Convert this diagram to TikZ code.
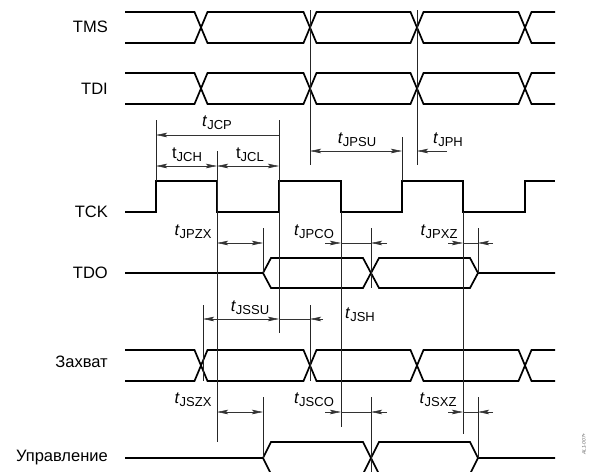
\documentclass[tikz,border=0pt]{standalone}
\usepackage{fontspec}
\setmainfont{Liberation Sans}
\usetikzlibrary{arrows.meta}

\tikzset{
  wave/.style={line width=1.7pt, line join=miter},
  guide/.style={line width=0.6pt, black!85},
  dim/.style={line width=0.6pt, black!80},
  signame/.style={anchor=east, inner sep=0pt, font=\fontsize{16.5}{18}\selectfont},
  tlabel/.style={inner sep=0pt},
}
% timing label: italic t with a lowered subscript
\newcommand{\tsub}[1]{{\fontsize{16.5}{18}\selectfont\textit{t}}\raisebox{-3pt}{\fontsize{13}{14}\selectfont #1}}
\newcommand{\tsubup}[1]{{\fontsize{16.5}{18}\selectfont t}\raisebox{-3pt}{\fontsize{13}{14}\selectfont #1}}
% bus signal between top and bottom level
\newcommand{\busline}[2]{%
  \draw[wave] (125,#1) -- (194.5,#1) -- (207.5,#2) -- (303.5,#2) -- (316.5,#1) -- (410.5,#1) -- (423.5,#2) -- (518.5,#2) -- (531.5,#1) -- (555,#1);
  \draw[wave] (125,#2) -- (194.5,#2) -- (207.5,#1) -- (303.5,#1) -- (316.5,#2) -- (410.5,#2) -- (423.5,#1) -- (518.5,#1) -- (531.5,#2) -- (555,#2);}
% output signal: high-Z, driven, high-Z
\newcommand{\outline}[3]{%
  \draw[wave] (125,#2) -- (263,#2) -- (271,#1) -- (363,#1) -- (379,#3) -- (470,#3) -- (478,#2) -- (555,#2);
  \draw[wave] (263,#2) -- (271,#3) -- (363,#3) -- (379,#1) -- (470,#1) -- (478,#2);}

\begin{document}
\begin{tikzpicture}[x=1pt, y=-1pt, >={Stealth[length=11pt, width=4.5pt, inset=2pt]}]
  \useasboundingbox (0,0) rectangle (590,472);
  \clip (0,0) rectangle (590,472);

  % signal names
  \node[signame] (tms) at (108,27) {TMS};
  \node[signame] (tdi) at (108,89) {TDI};
  \node[signame] (tck) at (108,212) {TCK};
  \node[signame] (tdo) at (108,273) {TDO};
  \node[signame] (cap) at (108,362) {Захват};
  \node[signame] (ctl) at (108,458) {Управление};

  % waveforms
  \busline{12}{43}
  \busline{73}{104}
  \draw[wave] (125,212) -- (156,212) -- (156,181) -- (217,181) -- (217,212) -- (279,212) -- (279,181) -- (341,181)
    -- (341,212) -- (402,212) -- (402,181) -- (463,181) -- (463,212) -- (525,212) -- (525,181) -- (555,181);
  \outline{258}{273}{288}
  \busline{350}{381}
  \outline{442}{458}{474}

  % reference lines
  \draw[guide] (156,120) -- (156,181);
  \draw[guide] (279,120) -- (279,333);
  \draw[guide] (217,151) -- (217,442);
  \draw[guide] (310,10) -- (310,165);
  \draw[guide] (417,10) -- (417,165);
  \draw[guide] (402,137) -- (402,181);
  \draw[guide] (341,212) -- (341,427);
  \draw[guide] (463,212) -- (463,434);
  \draw[guide] (263,228) -- (263,273);
  \draw[guide] (371,228) -- (371,288);
  \draw[guide] (478,228) -- (478,273);
  \draw[guide] (203,305) -- (203,381);
  \draw[guide] (310,305) -- (310,381);
  \draw[guide] (263,397) -- (263,458);
  \draw[guide] (371,397) -- (371,472);
  \draw[guide] (478,397) -- (478,458);

  % JTAG port timing
  \draw[dim,->] (279,135) -- (156,135);
  \node[tlabel] (jcp) at (217,123) {\tsub{JCP}};
  \draw[dim,<->] (156,166) -- (217,166);
  \node[tlabel] (jch) at (187,155) {\tsubup{JCH}};
  \draw[dim,<->] (217,166) -- (279,166);
  \node[tlabel] (jcl) at (250,155) {\tsubup{JCL}};
  \draw[dim,<->] (310,151) -- (402,151);
  \node[tlabel] (jpsu) at (357,140) {\tsub{JPSU}};
  \draw[dim,->] (447,151) -- (417,151);
  \node[tlabel] (jph) at (448,140) {\tsub{JPH}};
  \draw[dim,<->] (217,243) -- (263,243);
  \node[tlabel] (jpzx) at (193,232) {\tsub{JPZX}};
  \draw[dim,->] (325,243) -- (341,243);
  \draw[dim] (341,243) -- (371,243);
  \draw[dim,->] (387,243) -- (371,243);
  \node[tlabel] (jpco) at (314,232) {\tsub{JPCO}};
  \draw[dim,->] (448,243) -- (463,243);
  \draw[dim] (463,243) -- (478,243);
  \draw[dim,->] (493,243) -- (478,243);
  \node[tlabel] (jpxz) at (439,232) {\tsub{JPXZ}};

  % capture register timing
  \draw[dim,<->] (203,319) -- (279,319);
  \draw[dim] (279,319) -- (310,319);
  \draw[dim,->] (323,319) -- (310,319);
  \node[tlabel] (jssu) at (250,308) {\tsub{JSSU}};
  \node[tlabel] (jsh) at (360,315) {\tsub{JSH}};
  \draw[dim,<->] (217,412) -- (263,412);
  \node[tlabel] (jszx) at (193,400) {\tsub{JSZX}};
  \draw[dim,->] (325,412) -- (341,412);
  \draw[dim] (341,412) -- (371,412);
  \draw[dim,->] (387,412) -- (371,412);
  \node[tlabel] (jsco) at (314,400) {\tsub{JSCO}};
  \draw[dim,->] (448,412) -- (463,412);
  \draw[dim] (463,412) -- (478,412);
  \draw[dim,->] (493,412) -- (478,412);
  \node[tlabel] (jsxz) at (438,400) {\tsub{JSXZ}};

  \node[rotate=90, inner sep=0pt, black!60, font=\fontsize{5}{6}\selectfont\itshape] (fig) at (584,444) {AL1-007+};
\end{tikzpicture}
\end{document}
